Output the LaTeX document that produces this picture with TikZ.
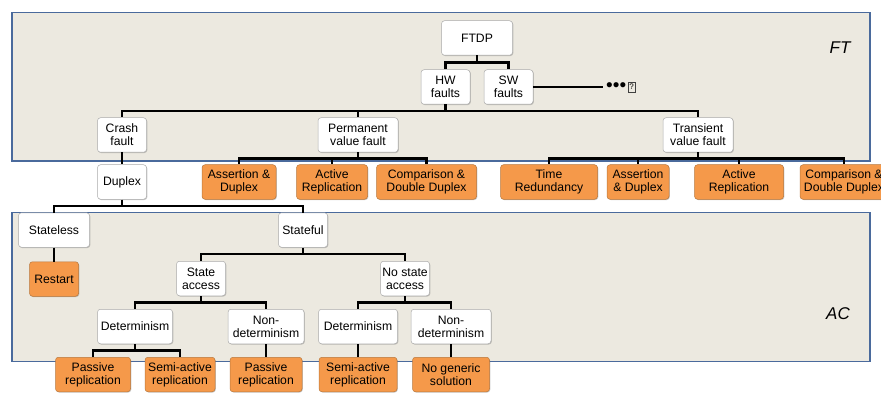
\documentclass[tikz,border=0pt]{standalone}
\usepackage{fontspec}
\setmainfont{Liberation Sans}
\usetikzlibrary{calc,shadows}
\definecolor{panelfill}{HTML}{ECE9E0}
\definecolor{panelborder}{HTML}{4A6A9C}
\definecolor{orangefill}{HTML}{F5994A}
\definecolor{orangeborder}{HTML}{B8773C}
\definecolor{boxborder}{HTML}{AAAAAA}
\begin{document}
\begin{tikzpicture}[x=1pt,y=-1pt,
 base/.style={rounded corners=3pt, align=center, inner sep=0pt, minimum height=34.5pt,
   font=\fontsize{12.2}{12.8}\selectfont,
   drop shadow={shadow xshift=0.8pt, shadow yshift=-0.8pt, opacity=0.35, fill=black!60}},
 wbox/.style={base, draw=boxborder, fill=white, line width=0.5pt},
 obox/.style={base, draw=orangeborder, fill=orangefill, line width=0.5pt},
 panel/.style={draw=panelborder, fill=panelfill, line width=1.9pt},
 conn/.style={line width=2.2pt},
 elbow/.style={conn, to path={(\tikztostart.south) |- ($(\tikztostart.south)!.5!(\tikztotarget.north)$) -| (\tikztotarget.north)}},
 plabel/.style={font=\fontsize{17}{17}\selectfont\itshape}
]
\useasboundingbox (0,0) rectangle (881,393);
% panels
\path[panel] (12,12.5) rectangle (870,161);
\path[panel] (12,212.5) rectangle (870,361.5);
\node[plabel] (ft) at (840,47.5) {FT};
\node[plabel] (ac) at (838,314) {AC};

% FT tree
\node[wbox, minimum width=71pt] (ftdp) at (477,38) {FTDP};
\node[wbox, minimum width=49pt] (hw) at (445.5,87) {HW\\faults};
\node[wbox, minimum width=49pt] (sw) at (508.5,87) {SW\\faults};
\coordinate (swend) at (603,87);
\node[anchor=west, inner sep=0pt, font=\fontsize{19}{19}\selectfont] (dots) at (606,87) {•••};
\node[draw=black!75, line width=0.5pt, inner sep=0pt, minimum width=7pt, minimum height=10pt, font=\fontsize{8}{8}\selectfont, anchor=west] (qm) at ([xshift=1.5pt]dots.east) {?};

\node[wbox, minimum width=49pt] (crash) at (122,135) {Crash\\fault};
\node[wbox, minimum width=80pt] (perm) at (358,135) {Permanent\\value fault};
\node[wbox, minimum width=70pt] (trans) at (698,135) {Transient\\value fault};

\node[wbox, minimum width=49pt] (duplex) at (122,182) {Duplex};
\node[obox, minimum width=74pt] (ad1) at (239,182) {Assertion \&\\Duplex};
\node[obox, minimum width=71pt] (ar1) at (332,182) {Active\\Replication};
\node[obox, minimum width=100pt] (cd1) at (426.5,182) {Comparison \&\\Double Duplex};
\node[obox, minimum width=97pt] (tr) at (549,182) {Time\\Redundancy};
\node[obox, minimum width=62pt] (ad2) at (638,182) {Assertion\\\& Duplex};
\node[obox, minimum width=89pt] (ar2) at (739,182) {Active\\Replication};
\node[obox, minimum width=88pt] (cd2) at (844,182) {Comparison \&\\Double Duplex};

% AC tree
\node[wbox, minimum width=71pt] (stateless) at (54,230) {Stateless};
\node[wbox, minimum width=49pt] (stateful) at (303,230) {Stateful};
\node[obox, minimum width=49pt] (restart) at (54,279) {Restart};
\node[wbox, minimum width=49pt] (sa) at (201,278.5) {State\\access};
\node[wbox, minimum width=49pt] (nsa) at (405,278.5) {No state\\access};
\node[wbox, minimum width=75pt] (det1) at (135,326.5) {Determinism};
\node[wbox, minimum width=76pt] (nd1) at (266,326.5) {Non-\\determinism};
\node[wbox, minimum width=79pt] (det2) at (358,326.5) {Determinism};
\node[wbox, minimum width=80pt] (nd2) at (451,326.5) {Non-\\determinism};
\node[obox, minimum width=75pt] (pr1) at (93,374.5) {Passive\\replication};
\node[obox, minimum width=70pt] (sr1) at (180,374.5) {Semi-active\\replication};
\node[obox, minimum width=72pt] (pr2) at (266,374.5) {Passive\\replication};
\node[obox, minimum width=78pt] (sr2) at (358,374.5) {Semi-active\\replication};
\node[obox, minimum width=77pt] (ng) at (451,374.5) {No generic\\solution};

% connectors
\draw[elbow] (ftdp) to (hw) (ftdp) to (sw);
\draw[conn] (sw.east) -- (swend);
\draw[elbow] (hw) to (crash) (hw) to (perm) (hw) to (trans);
\draw[elbow] (crash) to (duplex);
\draw[elbow] (perm) to (ad1) (perm) to (ar1) (perm) to (cd1);
\draw[elbow] (trans) to (tr) (trans) to (ad2) (trans) to (ar2) (trans) to (cd2);
\draw[elbow] (duplex) to (stateless) (duplex) to (stateful);
\draw[elbow] (stateless) to (restart);
\draw[elbow] (stateful) to (sa) (stateful) to (nsa);
\draw[elbow] (sa) to (det1) (sa) to (nd1);
\draw[elbow] (nsa) to (det2) (nsa) to (nd2);
\draw[elbow] (det1) to (pr1) (det1) to (sr1);
\draw[elbow] (nd1) to (pr2);
\draw[elbow] (det2) to (sr2);
\draw[elbow] (nd2) to (ng);
\end{tikzpicture}
\end{document}
